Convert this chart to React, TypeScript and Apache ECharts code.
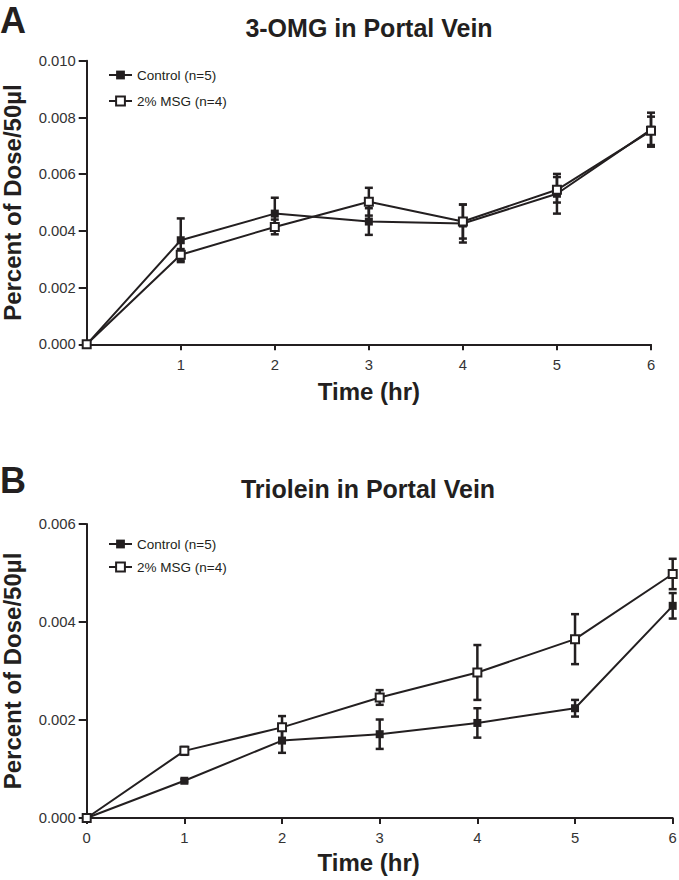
import React, { useEffect, useRef } from "react";
import * as echarts from "echarts";

const hours = [0, 1, 2, 3, 4, 5, 6];

// Panel A: 3-OMG in Portal Vein
const omgControl = [0, 0.00367, 0.00461, 0.00433, 0.00426, 0.00531, 0.00757];
const omgControlSem = [0, 0.00077, 0.00056, 0.00047, 0.00067, 0.0007, 0.0006];
const omgMsg = [0, 0.00316, 0.00414, 0.00503, 0.00433, 0.00545, 0.00753];
const omgMsgSem = [0, 0.0002, 0.00026, 0.00049, 0.0006, 0.00045, 0.0005];

// Panel B: Triolein in Portal Vein
const triControl = [0, 0.00076, 0.00158, 0.00171, 0.00194, 0.00224, 0.00433];
const triControlSem = [0, 0.00003, 0.00025, 0.0003, 0.0003, 0.00017, 0.00026];
const triMsg = [0, 0.00137, 0.00185, 0.00246, 0.00297, 0.00365, 0.00498];
const triMsgSem = [0, 0.00008, 0.00023, 0.00015, 0.00056, 0.00051, 0.00031];

const seriesNames = ["Control (n=5)", "2% MSG (n=4)"];
const panelTitles = ["3-OMG in Portal Vein", "Triolein in Portal Vein"];
const panelLetters = ["A", "B"];
const yAxisTitle = "Percent of Dose/50µl";
const xAxisTitle = "Time (hr)";
const topXTicks = [1, 2, 3, 4, 5, 6];

const INK = "#231f20";
const FONT = "'Liberation Sans', Arial, Helvetica, sans-serif";

function errData(vals: number[], sems: number[]) {
  const out: number[][] = [];
  hours.forEach((h, i) => {
    if (sems[i] > 0) out.push([h, vals[i] - sems[i], vals[i] + sems[i]]);
  });
  return out;
}

function errSeries(vals: number[], sems: number[], gi: number) {
  return {
    type: "custom",
    xAxisIndex: gi,
    yAxisIndex: gi,
    z: 1,
    silent: true,
    encode: { x: 0, y: [1, 2] },
    data: errData(vals, sems),
    renderItem: (params: any, api: any) => {
      const x = api.value(0);
      const lo = api.coord([x, api.value(1)]);
      const hi = api.coord([x, api.value(2)]);
      const hw = 4;
      const style = { stroke: INK, lineWidth: 2.5 };
      return {
        type: "group",
        children: [
          { type: "line", shape: { x1: lo[0], y1: lo[1], x2: hi[0], y2: hi[1] }, style },
          { type: "line", shape: { x1: hi[0] - hw, y1: hi[1], x2: hi[0] + hw, y2: hi[1] }, style },
          { type: "line", shape: { x1: lo[0] - hw, y1: lo[1], x2: lo[0] + hw, y2: lo[1] }, style },
        ],
      };
    },
  };
}

function lineSeries(name: string, vals: number[], gi: number, open: boolean) {
  return {
    name,
    type: "line",
    xAxisIndex: gi,
    yAxisIndex: gi,
    z: open ? 4 : 3,
    symbol: "rect",
    symbolSize: 8,
    showSymbol: true,
    lineStyle: { color: INK, width: 2 },
    itemStyle: open
      ? { color: "#ffffff", borderColor: INK, borderWidth: 2 }
      : { color: INK, borderColor: INK, borderWidth: 0 },
    data: hours.map((h, i) => [h, vals[i]]),
  };
}

const axisLineStyle = { lineStyle: { color: INK, width: 2 } };
const tickLabelStyle = { color: "#333333", fontSize: 14.8, fontFamily: FONT };
const axisNameStyle = { color: INK, fontSize: 24, fontWeight: "bold" as const, fontFamily: FONT };

export default function App() {
  const ref = useRef<HTMLDivElement>(null);
  useEffect(() => {
    if (!ref.current) return;
    const chart = echarts.init(ref.current, null, { renderer: "svg" });
    const option: any = {
      animation: false,
      backgroundColor: "#ffffff",
      graphic: [
        { type: "text", left: 0, top: 2, style: { text: panelLetters[0], fill: INK, font: `bold 36px ${FONT}` } },
        { type: "text", left: 0, top: 462, style: { text: panelLetters[1], fill: INK, font: `bold 36px ${FONT}` } },
      ],
      title: [
        {
          text: panelTitles[0],
          left: 364,
          top: 10,
          textAlign: "center",
          textStyle: { color: INK, fontSize: 25, fontWeight: "bold", fontFamily: FONT },
        },
        {
          text: panelTitles[1],
          left: 363,
          top: 471,
          textAlign: "center",
          textStyle: { color: INK, fontSize: 25, fontWeight: "bold", fontFamily: FONT },
        },
      ],
      legend: [
        {
          orient: "vertical",
          left: 108,
          top: 68,
          padding: 0,
          itemWidth: 23,
          itemHeight: 11,
          itemGap: 12,
          selectedMode: false,
          data: seriesNames,
          textStyle: { color: INK, fontSize: 13.5, fontFamily: FONT },
        },
        {
          orient: "vertical",
          left: 108,
          top: 537,
          padding: 0,
          itemWidth: 23,
          itemHeight: 11,
          itemGap: 9,
          selectedMode: false,
          data: seriesNames,
          textStyle: { color: INK, fontSize: 13.5, fontFamily: FONT },
        },
      ],
      grid: [
        { left: 86.7, top: 60.8, width: 564.3, height: 283.5, containLabel: false, outerBoundsMode: "none" },
        { left: 86.7, top: 524, width: 586, height: 294, containLabel: false, outerBoundsMode: "none" },
      ],
      xAxis: [
        {
          type: "value",
          gridIndex: 0,
          min: 0,
          max: 6,
          interval: 1,
          splitLine: { show: false },
          axisLine: axisLineStyle,
          axisTick: { show: true, length: 6, lineStyle: { color: INK, width: 2 }, customValues: topXTicks },
          axisLabel: { ...tickLabelStyle, margin: 13, customValues: topXTicks },
          name: xAxisTitle,
          nameLocation: "middle",
          nameGap: 35,
          nameTextStyle: axisNameStyle,
        },
        {
          type: "value",
          gridIndex: 1,
          min: 0,
          max: 6,
          interval: 1,
          splitLine: { show: false },
          axisLine: axisLineStyle,
          axisTick: { show: true, length: 6, lineStyle: { color: INK, width: 2 } },
          axisLabel: { ...tickLabelStyle, margin: 12 },
          name: xAxisTitle,
          nameLocation: "middle",
          nameGap: 32,
          nameTextStyle: { ...axisNameStyle, padding: [0, 22, 0, 0] },
        },
      ],
      yAxis: [
        {
          type: "value",
          gridIndex: 0,
          min: 0,
          max: 0.01,
          interval: 0.002,
          splitLine: { show: false },
          axisLine: { show: true, ...axisLineStyle },
          axisTick: { show: true, inside: false, length: 8, lineStyle: { color: INK, width: 2 } },
          axisLabel: { ...tickLabelStyle, margin: 11, formatter: (v: number) => v.toFixed(3) },
          name: yAxisTitle,
          nameLocation: "middle",
          nameGap: 62,
          nameTextStyle: axisNameStyle,
        },
        {
          type: "value",
          gridIndex: 1,
          min: 0,
          max: 0.006,
          interval: 0.002,
          splitLine: { show: false },
          axisLine: { show: true, ...axisLineStyle },
          axisTick: { show: true, inside: false, length: 8, lineStyle: { color: INK, width: 2 } },
          axisLabel: { ...tickLabelStyle, margin: 11, formatter: (v: number) => v.toFixed(3) },
          name: yAxisTitle,
          nameLocation: "middle",
          nameGap: 62,
          nameTextStyle: axisNameStyle,
        },
      ],
      series: [
        errSeries(omgControl, omgControlSem, 0),
        errSeries(omgMsg, omgMsgSem, 0),
        lineSeries(seriesNames[0], omgControl, 0, false),
        lineSeries(seriesNames[1], omgMsg, 0, true),
        errSeries(triControl, triControlSem, 1),
        errSeries(triMsg, triMsgSem, 1),
        lineSeries(seriesNames[0], triControl, 1, false),
        lineSeries(seriesNames[1], triMsg, 1, true),
      ],
    };
    chart.setOption(option);
    return () => chart.dispose();
  }, []);
  return (
    <div
      ref={ref}
      style={{ position: "absolute", left: 0, top: 0, width: 679, height: 880, background: "#fff" }}
    />
  );
}
